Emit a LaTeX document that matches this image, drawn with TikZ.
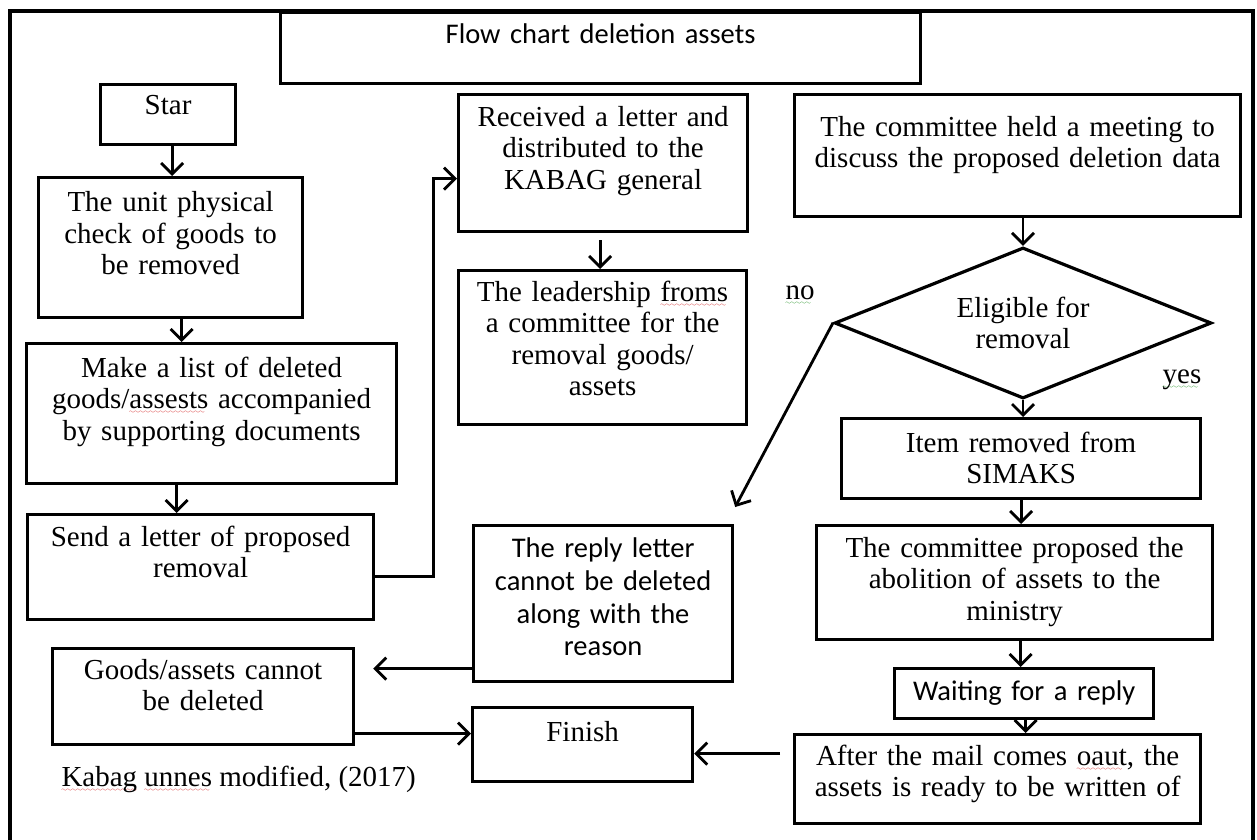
\documentclass[tikz,border=0pt]{standalone}
\usepackage{fontspec}
\setmainfont{Liberation Serif}
\newfontfamily\calibri{Carlito}
\usetikzlibrary{shapes.geometric,arrows.meta}

\font\wavefont=lasy6
\newsavebox{\wavebox}
\newcommand{\txtserif}{\fontsize{29}{31.5}\selectfont}
\newcommand{\txtsans}{\calibri\fontsize{28.5}{32.7}\selectfont}
\newcommand{\wavy}[2]{\sbox{\wavebox}{#2}\rlap{\lower5pt\hbox to\wd\wavebox{\color{#1}\leaders\hbox{\wavefont\char58}\hfill}}\usebox{\wavebox}}

\tikzstyle{block} = [rectangle, draw=black, line width=3.2pt, inner sep=0pt, align=center, anchor=north west, font=\txtserif]
\tikzstyle{block_sans} = [block, font=\txtsans]
\tikzstyle{decision} = [diamond, shape aspect=2.5, draw=black, line width=3.2pt, inner sep=0pt, align=center, minimum width=377pt, minimum height=151pt, font=\txtserif]
\tikzstyle{arrow} = [line width=2.8pt,->,>={Straight Barb[length=11pt,width=22pt]}]

\begin{document}
\begin{tikzpicture}[x=1pt,y=-1pt]
        \useasboundingbox (0,0) rectangle (1257,839);
        \draw [line width=3.2pt] (10,11) rectangle (1253,850);
        % left column
        \node (title) [block_sans, text width=640pt, text height=31pt, text depth=40pt] at (279,11) {Flow chart deletion assets};
        \node (star) [block, text width=135pt, text height=30pt, text depth=30pt] at (99,83) {Star};
        \node (unit) [block, text width=264pt, text height=34pt, text depth=106pt] at (37,176) {The unit physical\\check of goods to\\be removed};
        \node (list) [block, text width=370pt, text height=33.5pt, text depth=106.5pt] at (25,342) {Make a list of deleted\\goods/\wavy{red!80!black}{assests} accompanied\\by supporting documents};
        \node (send) [block, text width=346pt, text height=31.5pt, text depth=73.5pt] at (26,513) {Send a letter of proposed\\removal};
        \node (goods) [block, text width=301pt, text height=30.5pt, text depth=65.5pt] at (51,647) {Goods/assets cannot\\be deleted};
        % middle column
        \node (received) [block, text width=289pt, text height=31.5pt, text depth=105.5pt] at (457,93) {Received a letter and\\distributed to the\\KABAG general};
        \node (leader) [block, text width=288pt, text height=30.5pt, text depth=123.5pt] at (457,269) {The leadership \wavy{red!80!black}{froms}\\a committee for the\\removal goods/\\assets};
        \node (reply) [block_sans, text width=259pt, text height=32pt, text depth=124pt] at (472,524) {The reply letter\\cannot be deleted\\along with the\\reason};
        \node (finish) [block, text width=220pt, text height=33.5pt, text depth=40.5pt] at (471,706) {Finish};
        % right column
        \node (committee) [block, text width=446pt, text height=41.5pt, text depth=80.5pt] at (793,93) {The committee held a meeting to\\discuss the proposed deletion data};
        \node (dia) [decision] at (1023,323) {Eligible for\\removal};
        \node (item) [block, text width=359pt, text height=33.5pt, text depth=46.5pt] at (840,417) {Item removed from\\SIMAKS};
        \node (propose) [block, text width=396pt, text height=31.5pt, text depth=82.5pt] at (815,524) {The committee proposed the\\abolition of assets to the\\ministry};
        \node (wait) [block_sans, text width=259pt, text height=32pt, text depth=18pt] at (893,667) {Waiting for a reply};
        \node (after) [block, text width=406pt, text height=30.5pt, text depth=58.5pt] at (793,733) {After the mail comes \wavy{red!80!black}{oaut}, the\\assets is ready to be written of};
        % labels
        \node (no) [font=\txtserif] at (800,295) {\wavy{green!50!black}{no}};
        \node (yes) [font=\txtserif] at (1182,380) {\wavy{green!50!black}{yes}};
        \node (source) [font=\txtserif, anchor=base west] at (58,786) {\wavy{red!80!black}{Kabag} \wavy{red!80!black}{unnes} modified, (2017)};
        % arrows
        \draw [arrow] ([xshift=4]star.south) -- ([xshift=4]star.south |- unit.north);
        \draw [arrow] ([xshift=11]unit.south) -- ([xshift=11]unit.south |- list.north);
        \draw [arrow] ([xshift=-35]list.south) -- ([xshift=-35]list.south |- send.north);
        \draw [arrow] ([yshift=-9.5]send.east) -- ++(58,0) |- ([yshift=-15.5]received.west);
        \draw [arrow, shorten <=7pt] ([xshift=-3]received.south) -- ([xshift=-3]received.south |- leader.north);
        \draw [arrow] (dia.north |- committee.south) -- (dia.north);
        \draw [arrow] (dia.south) -- (dia.south |- item.north);
        \draw [arrow] (item.south) -- (item.south |- propose.north);
        \draw [arrow] ([xshift=6]propose.south) -- ([xshift=6]propose.south |- wait.north);
        \draw [arrow] ([xshift=1.5]wait.south) -- ([xshift=1.5]wait.south |- after.north);
        \draw [arrow] (dia.west) -- ([xshift=1,yshift=17]reply.north east);
        \draw [arrow, shorten >=18pt] ([yshift=-65]reply.west) -- ([yshift=-65]reply.west -| goods.east);
        \draw [arrow] ([yshift=-37]goods.east) -- ([yshift=-37]goods.east -| finish.west);
        \draw [arrow, shorten <=13pt] ([yshift=25.5]after.west) -- ([yshift=25.5]after.west -| finish.east);
    \end{tikzpicture}
\end{document}
